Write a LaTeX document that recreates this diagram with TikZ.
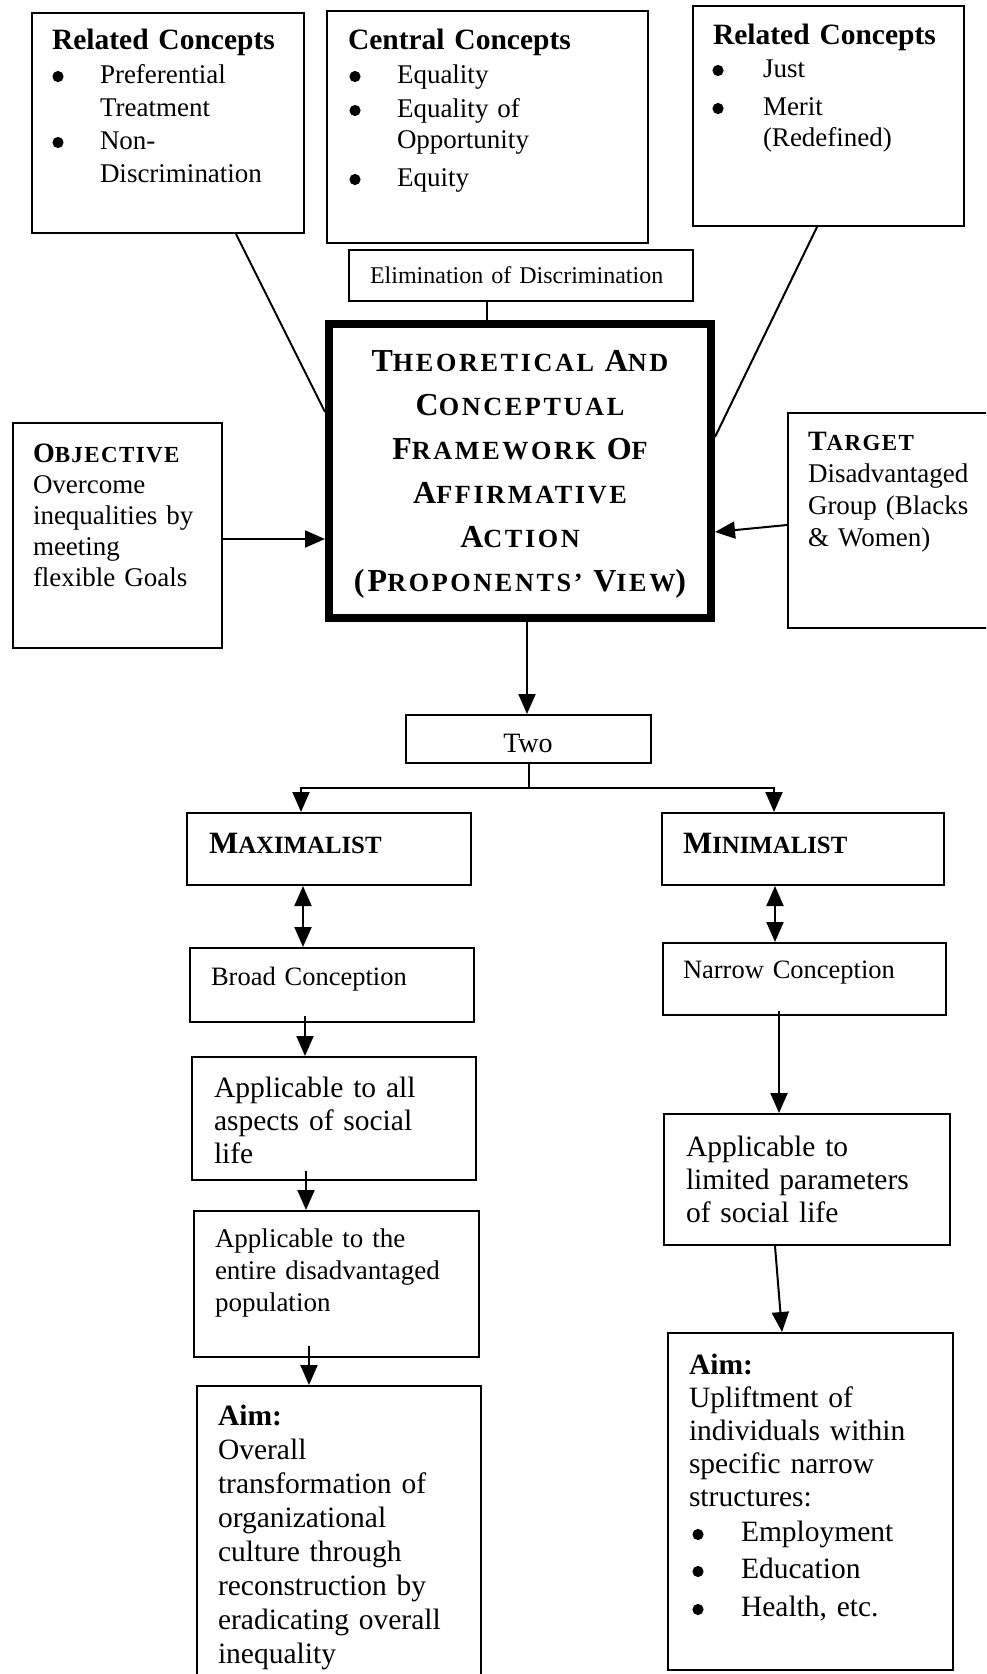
\documentclass[tikz,border=0pt]{standalone}
\usepackage{fontspec}
\setmainfont{Liberation Serif}
\newfontfamily\lsfont[LetterSpace=10]{Liberation Serif}
\newfontfamily\lsfontb[LetterSpace=6]{Liberation Serif}
\usetikzlibrary{arrows.meta,fit,calc}
\newcommand\hsc[3]{#1{\fontsize{#3}{#3}\selectfont #2}}
\newcommand\bl[1][47pt]{\hspace*{#1}}
\begin{document}
\begin{tikzpicture}[x=1pt,y=-1pt,
  box/.style={draw, line width=2pt, inner sep=0pt},
  mainbox/.style={draw, line width=8pt, inner sep=0pt},
  txt/.style={inner sep=0pt, outer sep=0pt, anchor=base west, align=left, text width=#1},
  ln/.style={line width=2pt},
  arr/.style={ln, -{Triangle[length=20pt,width=17pt]}},
  darr/.style={ln, {Triangle[length=20pt,width=17pt]}-{Triangle[length=20pt,width=17pt]}},
  hd/.style={font={\bfseries\fontsize{29.5}{33}\selectfont}},
  body/.style={font={\fontsize{27}{#1}\selectfont}},
  bodyb/.style={font={\fontsize{29.5}{#1}\selectfont}},
  bullet/.style={fill=black}
]
\fill[white] (0,0) rectangle (986,1674);
\useasboundingbox (0,0) rectangle (986,1674);
\clip (0,0) rectangle (986,1674);

% boxes
\node[box, fit={(32,13) (304,233)}] (rel1) {};
\node[box, fit={(327,11) (648,243)}] (cen) {};
\node[box, fit={(693,6) (964,226)}] (rel2) {};
\node[box, fit={(349,250) (693,301)}] (elim) {};
\node[mainbox, fit={(329,324) (711,618)}] (main) {};
\node[box, fit={(13,423) (222,648)}] (obj) {};
\node[box, fit={(788,413) (1000,628)}] (tgt) {};
\node[box, fit={(406,715) (651,763)}] (two) {};
\node[box, fit={(187,813) (471,885)}] (max) {};
\node[box, fit={(662,813) (944,885)}] (min) {};
\node[box, fit={(190,948) (474,1022)}] (broad) {};
\node[box, fit={(663,943) (946,1015)}] (narrow) {};
\node[box, fit={(192,1057) (476,1180)}] (app1) {};
\node[box, fit={(194,1211) (479,1357)}] (app2) {};
\node[box, fit={(197,1386) (481,1700)}] (aim1) {};
\node[box, fit={(664,1114) (950,1245)}] (app3) {};
\node[box, fit={(668,1333) (953,1670)}] (aim2) {};

% texts
\node[txt=260pt, hd] (rel1h) at (52,49) {Related Concepts};
\node[txt=250pt, body=33] (rel1b) at (53,83) {\bl Preferential\\\bl Treatment\\\bl Non-\\\bl Discrimination};

\node[txt=290pt, hd] (cenh) at (348,49) {Central Concepts};
\node[txt=290pt, body=32] (cenb) at (350,83) {\bl Equality\\[2pt]\bl Equality of\\[-1pt]\bl Opportunity\\[6pt]\bl Equity};

\node[txt=250pt, hd] (rel2h) at (713,44) {Related Concepts};
\node[txt=240pt, body=31] (rel2b) at (713,77) {\bl[50pt]Just\\[7pt]\bl[50pt]Merit\\\bl[50pt](Redefined)};

\node[txt=330pt, font={\fontsize{24}{24}\selectfont}] (elimt) at (370,283) {Elimination of Discrimination};

\node[txt=400pt, align=center, anchor=base, font={\lsfont\bfseries\fontsize{32}{44}\selectfont}] (maint) at (520,371)
 {\hsc{T}{HEORETICAL}{26.2} \hsc{A}{ND}{26.2}\\
  \hsc{C}{ONCEPTUAL}{26.2}\\
  \hsc{F}{RAMEWORK}{26.2} \hsc{O}{F}{26.2}\\
  \hsc{A}{FFIRMATIVE}{26.2}\\
  \hsc{A}{CTION}{26.2}\\
  (\hsc{P}{ROPONENTS’}{26.2} \hsc{V}{IEW}{26.2})};

\node[txt=200pt, font={\lsfontb\bfseries\fontsize{28}{28}\selectfont}] (objh) at (33,462) {\hsc{O}{BJECTIVE}{23}};
\node[txt=200pt, body=31] (objb) at (33,493) {Overcome\\inequalities by\\meeting\\flexible Goals};

\node[txt=200pt, font={\lsfontb\bfseries\fontsize{28}{28}\selectfont}] (tgth) at (808,450) {\hsc{T}{ARGET}{23}};
\node[txt=200pt, body=32] (tgtb) at (808,482) {Disadvantaged\\Group (Blacks\\\& Women)};

\node[inner sep=0pt, anchor=base, font={\fontsize{28}{28}\selectfont}] (twot) at (528,752) {Two};

\node[txt=250pt, font={\bfseries\fontsize{31}{31}\selectfont}] (maxt) at (209,853) {\hsc{M}{AXIMALIST}{24.8}};
\node[txt=250pt, font={\bfseries\fontsize{31}{31}\selectfont}] (mint) at (683,853) {\hsc{M}{INIMALIST}{24.8}};

\node[txt=250pt, font={\fontsize{26.5}{26.5}\selectfont}] (broadt) at (211,985) {Broad Conception};
\node[txt=250pt, font={\fontsize{26.5}{26.5}\selectfont}] (narrowt) at (683,978) {Narrow Conception};

\node[txt=255pt, bodyb=33] (app1t) at (214,1097) {Applicable to all\\aspects of social\\life};
\node[txt=260pt, body=32] (app2t) at (215,1247) {Applicable to the\\entire disadvantaged\\population};
\node[txt=260pt, bodyb=33] (app3t) at (686,1156) {Applicable to\\limited parameters\\of social life};

\node[txt=260pt, bodyb=34] (aim1t) at (218,1425) {\textbf{Aim:}\\Overall\\transformation of\\organizational\\culture through\\reconstruction by\\eradicating overall\\inequality};
\node[txt=260pt, bodyb=33] (aim2t) at (689,1374) {\textbf{Aim:}\\Upliftment of\\individuals within\\specific narrow\\structures:\\[2pt]\bl[52pt]Employment\\[4pt]\bl[52pt]Education\\[5pt]\bl[52pt]Health, etc.};

% bullets
\foreach \bx/\by in {58/76.5, 58/142.5, 355/76.5, 355/110.5, 355/179.5, 718/70.5, 718/108.5, 698/1534.5, 698/1571.5, 698/1609.5}
  \fill[bullet] (\bx,\by) circle[radius=5.6pt];

% connectors
\coordinate (e1) at ([xshift=-34pt]elim.south);
\draw[ln] (e1) -- (e1 |- main.north);
\draw[ln] ([xshift=68pt]rel1.south) -- ([yshift=59pt]main.west);
\draw[ln] ([xshift=-11.5pt]rel2.south) -- ([yshift=34pt]main.east);
\coordinate (o1) at ([yshift=-3.5pt]obj.east);
\draw[arr] (o1) -- (o1 -| main.west);
\draw[arr] ([yshift=-4.5pt]tgt.west) -- ([yshift=-61pt]main.east);

\coordinate (m1) at ([xshift=7pt]main.south);
\draw[arr] (m1) -- (m1 |- two.north);
\coordinate (sp) at ([yshift=-24pt]two.south);
\draw[ln] (two.south) -- (sp);
\draw[arr] (sp) -| ([xshift=-28pt]max.north);
\draw[arr] (sp) -| ([xshift=-29pt]min.north);

\coordinate (mx) at ([xshift=-26pt]max.south);
\draw[darr] (mx) -- (mx |- broad.north);
\coordinate (mn) at ([xshift=-28pt]min.south);
\draw[darr] (mn) -- (mn |- narrow.north);

\coordinate (b1) at ([xshift=-27pt,yshift=7pt]broad.south);
\draw[arr] (b1) -- (b1 |- app1.north);
\coordinate (n1) at ([xshift=-25.5pt,yshift=5pt]narrow.south);
\draw[arr] (n1) -- (n1 |- app3.north);
\coordinate (a1) at ([xshift=-28pt,yshift=10pt]app1.south);
\draw[arr] (a1) -- (a1 |- app2.north);
\coordinate (a2) at ([xshift=-27.5pt,yshift=12pt]app2.south);
\draw[arr] (a2) -- (a2 |- aim1.north);
\draw[arr] ([xshift=-32pt]app3.south) -- ([xshift=-28.5pt]aim2.north);
\end{tikzpicture}
\end{document}
